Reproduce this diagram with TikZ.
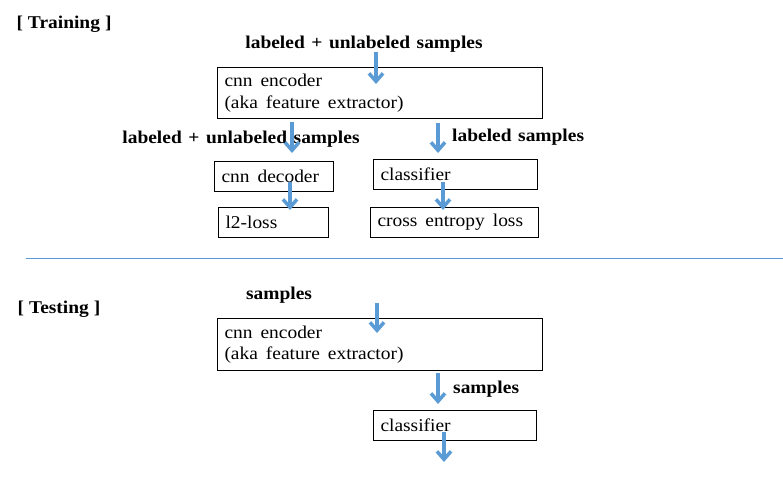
\documentclass[tikz,border=0pt]{standalone}
\usepackage{fontspec}
\setmainfont{Liberation Serif}[FakeStretch=1.08]
\usetikzlibrary{arrows.meta}
\definecolor{arrowblue}{HTML}{5B9BD5}
\newcommand\wsp{\hspace{8pt}}
\newcommand\bsp{\hspace{6.6pt}}
\tikzset{
  box/.style={draw=black, line width=1pt, anchor=north west, align=left,
    inner xsep=7pt, inner ysep=0pt, font=\fontsize{18}{21.5}\selectfont},
  blabel/.style={inner sep=0pt, font=\fontsize{18}{21}\selectfont\bfseries},
  flow/.style={draw=arrowblue, line width=3.5pt, -{Straight Barb[length=8pt,width=14pt]}},
  sepline/.style={draw=arrowblue, line width=1pt}
}
\begin{document}
\begin{tikzpicture}[x=1pt,y=-1pt]
\useasboundingbox (0,0) rectangle (783,489);
% ---------- Training ----------
\node[blabel] (train) at (64,24) {[\hspace{5pt}Training\hspace{5pt}]};
\node[blabel] (lab1) at (364,44) {labeled\bsp+\bsp unlabeled\bsp samples};
\node[box, text width=311pt, minimum height=51pt] (enc1) at (217,67)
  {cnn\wsp encoder\\(aka\wsp feature\wsp extractor)};
\node[blabel] (lab2) at (241,139) {labeled\bsp+\bsp unlabeled\bsp samples};
\node[blabel, anchor=west] (lab3) at (452,137) {labeled\bsp samples};
\node[box, text width=105pt, minimum height=30pt] (dec) at (214,161) {cnn\wsp decoder};
\node[box, text width=150pt, minimum height=30pt] (cls1) at (373,159) {classifier};
\node[box, text width=96pt, minimum height=30pt] (l2) at (218,207) {l2-loss};
\node[box, text width=154pt, minimum height=30pt] (ce) at (370,207) {cross\wsp entropy\wsp loss};
\coordinate (a1s) at (376,52);  \coordinate (a1e) at (376,84);
\coordinate (a2s) at (292,122); \coordinate (a2e) at (292,153);
\coordinate (a3s) at (438,123); \coordinate (a3e) at (438,153);
\coordinate (a4s) at (290,182); \coordinate (a4e) at (290,210);
\coordinate (a5s) at (443,182); \coordinate (a5e) at (443,210);
\draw[flow] (a1s) -- (a1e);
\draw[flow] (a2s) -- (a2e);
\draw[flow] (a3s) -- (a3e);
\draw[flow] (a4s) -- (a4e);
\draw[flow] (a5s) -- (a5e);
% ---------- separator ----------
\coordinate (sepL) at (26,258); \coordinate (sepR) at (783,258);
\draw[sepline] (sepL) -- (sepR);
% ---------- Testing ----------
\node[blabel] (test) at (59,309) {[\hspace{5pt}Testing\hspace{5pt}]};
\node[blabel] (s1) at (279,295) {samples};
\node[box, text width=311pt, minimum height=52pt] (enc2) at (217,318)
  {cnn\wsp encoder\\(aka\wsp feature\wsp extractor)};
\node[blabel, anchor=west] (s2) at (453,389) {samples};
\node[box, text width=149pt, minimum height=30pt] (cls2) at (373,410) {classifier};
\coordinate (a6s) at (377,303); \coordinate (a6e) at (377,333);
\coordinate (a7s) at (438,373); \coordinate (a7e) at (438,404);
\coordinate (a8s) at (444,432); \coordinate (a8e) at (444,462);
\draw[flow] (a6s) -- (a6e);
\draw[flow] (a7s) -- (a7e);
\draw[flow] (a8s) -- (a8e);
\end{tikzpicture}
\end{document}
